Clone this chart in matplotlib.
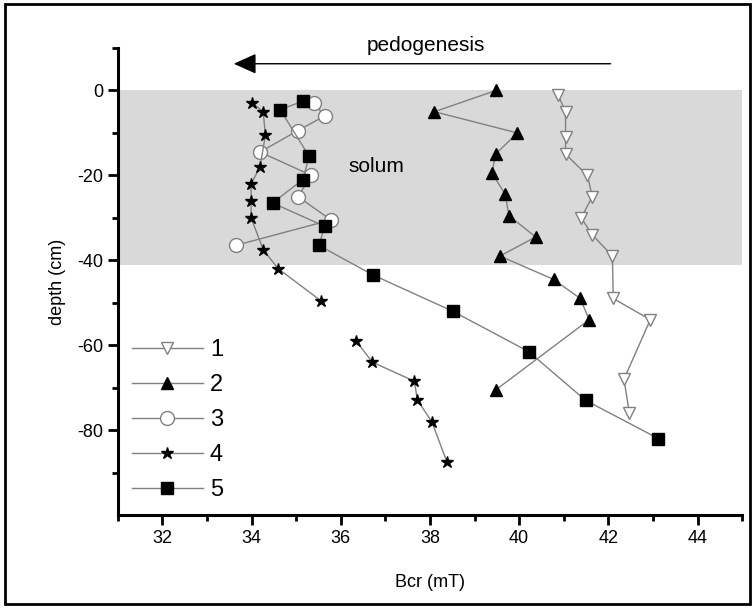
import matplotlib
matplotlib.use('Agg')
import matplotlib.pyplot as plt
from matplotlib.patches import Rectangle
import numpy as np

plt.rcParams['font.family'] = ['Liberation Sans', 'DejaVu Sans']
plt.rcParams['axes.unicode_minus'] = False

# series data: Bcr (mT) vs depth (cm)
bcr_1 = [40.87, 41.04, 41.04, 41.04, 41.53, 41.64, 41.39, 41.64, 42.09, 42.11, 42.94, 42.35, 42.47]
depth_1 = [-1, -5, -11, -15, -20, -25, -30, -34, -39, -49, -54, -68, -76]

bcr_2 = [39.48, 38.10, 39.96, 39.47, 39.39, 39.69, 39.77, 40.37, 39.57, 40.77, 41.37, 41.57, 39.48]
depth_2 = [0, -5, -10, -15, -19.5, -24.5, -29.5, -34.5, -39, -44.5, -49, -54, -70.5]

bcr_3 = [35.40, 35.64, 35.03, 34.19, 35.34, 35.04, 35.78, 33.64]
depth_3 = [-3, -6, -9.5, -14.5, -20, -25, -30.5, -36.5]

# profile 4 has a gap (no line) between -49.5 and -59 cm
bcr_4 = [34.02, 34.26, 34.31, 34.19, 33.99, 33.99, 33.99, 34.26, 34.60, 35.55, np.nan,
         36.34, 36.71, 37.65, 37.72, 38.04, 38.38]
depth_4 = [-3, -5, -10.5, -18, -22, -26, -30, -37.5, -42, -49.5, np.nan,
           -59, -64, -68.5, -73, -78, -87.5]

bcr_5 = [35.16, 34.64, 35.29, 35.15, 34.47, 35.64, 35.51, 36.73, 38.51, 40.21, 41.49, 43.12]
depth_5 = [-2.5, -4.5, -15.5, -21, -26.5, -32, -36.5, -43.5, -52, -61.5, -73, -82]

labels = ['1', '2', '3', '4', '5']

fig = plt.figure(figsize=(7.55, 6.08), dpi=100)
ax = fig.add_axes([0.156, 0.153, 0.827, 0.768])

# solum band
ax.axhspan(-41, 0, color='#d9d9d9', zorder=0, lw=0)

line_kw = dict(color='#808080', lw=1.0)
ax.plot(bcr_1, depth_1, marker='v', ms=9, mfc='white', mec='#808080', mew=1.0,
        label=labels[0], **line_kw)
ax.plot(bcr_2, depth_2, marker='^', ms=9, mfc='black', mec='black',
        label=labels[1], **line_kw)
ax.plot(bcr_3, depth_3, marker='o', ms=10, mfc='white', mec='#808080', mew=1.0,
        label=labels[2], **line_kw)
ax.plot(bcr_4, depth_4, marker='*', ms=9, mfc='black', mec='black',
        label=labels[3], **line_kw)
ax.plot(bcr_5, depth_5, marker='s', ms=9, mfc='black', mec='black',
        label=labels[4], **line_kw)

ax.set_xlim(31, 45)
ax.set_ylim(-100, 10)
ax.set_xticks(range(32, 45, 2))
ax.set_xticks(range(31, 46, 2), minor=True)
ax.set_yticks([-80, -60, -40, -20, 0])
ax.set_yticks([-90, -70, -50, -30, -10, 10], minor=True)

for s in ['top', 'right']:
    ax.spines[s].set_visible(False)
for s in ['left', 'bottom']:
    ax.spines[s].set_linewidth(2.2)
ax.tick_params(which='major', direction='out', length=7, width=2, labelsize=13)
ax.tick_params(which='minor', direction='out', length=4, width=2)

ax.set_xlabel('Bcr (mT)', fontsize=13, labelpad=20)
ax.set_ylabel('depth (cm)', fontsize=13, labelpad=8)

# pedogenesis arrow
ax.annotate('', xy=(33.6, 6.3), xytext=(42.05, 6.3),
            arrowprops=dict(arrowstyle='-|>,head_length=1.0,head_width=0.45',
                            color='#606060', lw=1.0, mutation_scale=14,
                            fc='black', ec='black', shrinkA=0, shrinkB=0),
            annotation_clip=False)
ax.text(37.9, 10.5, 'pedogenesis', fontsize=15, ha='center', va='center', clip_on=False)
ax.text(36.8, -18, 'solum', fontsize=15, ha='center', va='center')

leg = ax.legend(loc='lower left', frameon=False, fontsize=17, numpoints=1,
                handlelength=3.0, labelspacing=0.55, handletextpad=0.3,
                borderaxespad=0.2, bbox_to_anchor=(0.0, 0.0))

# figure border
fig.patches.append(Rectangle((0.006, 0.006), 0.988, 0.988, transform=fig.transFigure,
                             fill=False, ec='black', lw=2))

fig.savefig('out.png', dpi=100)
